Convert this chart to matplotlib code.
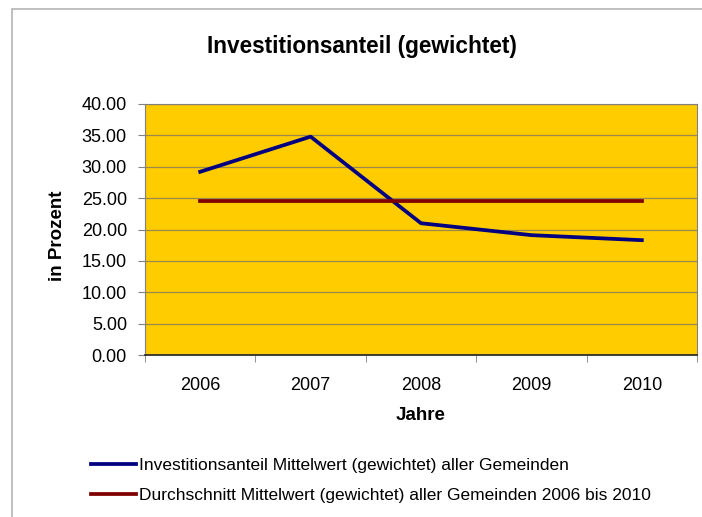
import matplotlib.pyplot as plt
from matplotlib.patches import Rectangle
from matplotlib.ticker import FixedLocator, NullFormatter

plt.rcParams['font.family'] = ['Liberation Sans', 'DejaVu Sans']

# Daten
jahre = ['2006', '2007', '2008', '2009', '2010']
investitionsanteil = [29.2, 34.8, 21.0, 19.1, 18.3]
durchschnitt = [24.5, 24.5, 24.5, 24.5, 24.5]
yticks = [0, 5, 10, 15, 20, 25, 30, 35, 40]

fig = plt.figure(figsize=(7.02, 5.17), dpi=100)
fig.patches.append(Rectangle((12 / 702, -0.05), 1.0, 1 - 9 / 517 + 0.05,
                             transform=fig.transFigure, fill=False,
                             edgecolor='#b4b4b4', linewidth=1.2))

ax = fig.add_axes([145 / 702, 1 - 355 / 517, (697 - 145) / 702, (355 - 104) / 517])
ax.set_facecolor('#FFCC00')

x = list(range(len(jahre)))
ax.plot(x, investitionsanteil, color='#000080', linewidth=2.7,
        label='Investitionsanteil Mittelwert (gewichtet) aller Gemeinden')
ax.plot(x, durchschnitt, color='#800000', linewidth=2.7,
        label='Durchschnitt Mittelwert (gewichtet) aller Gemeinden 2006 bis 2010')

ax.set_xlim(-0.5, len(jahre) - 0.5)
ax.set_ylim(0, 40)
ax.set_yticks(yticks)
ax.set_yticklabels([f'{v:.2f}' for v in yticks], fontsize=13)
ax.yaxis.grid(True, color='#9c8a4a', linewidth=0.9)
ax.set_axisbelow(True)

ax.set_xticks(x)
ax.set_xticklabels(jahre, fontsize=13)
ax.tick_params(axis='x', which='major', length=0, pad=16)
ax.xaxis.set_minor_locator(FixedLocator([i - 0.5 for i in range(len(jahre) + 1)]))
ax.xaxis.set_minor_formatter(NullFormatter())
ax.tick_params(axis='x', which='minor', length=5, color='#808080', direction='out')
ax.tick_params(axis='y', length=5, color='#808080', direction='out', pad=8)

for side in ['left', 'top', 'right']:
    ax.spines[side].set_color('#808080')
ax.spines['bottom'].set_color('#202020')
ax.spines['bottom'].set_linewidth(1.2)

fig.text(362 / 702, 1 - 47 / 517, 'Investitionsanteil (gewichtet)',
         ha='center', va='center', fontsize=16.3, fontweight='bold')
fig.text(57 / 702, 1 - 236 / 517, 'in Prozent', rotation=90,
         ha='center', va='center', fontsize=13.5, fontweight='bold')
fig.text(421 / 702, 1 - 415 / 517, 'Jahre',
         ha='center', va='center', fontsize=13.5, fontweight='bold')

fig.legend(loc='upper left', bbox_to_anchor=(91 / 702, 1 - 458 / 517),
           frameon=False, fontsize=12.5, handlelength=2.6, handletextpad=0.15,
           labelspacing=0.85, borderaxespad=0, borderpad=0)

fig.savefig('out.png', dpi=100)
